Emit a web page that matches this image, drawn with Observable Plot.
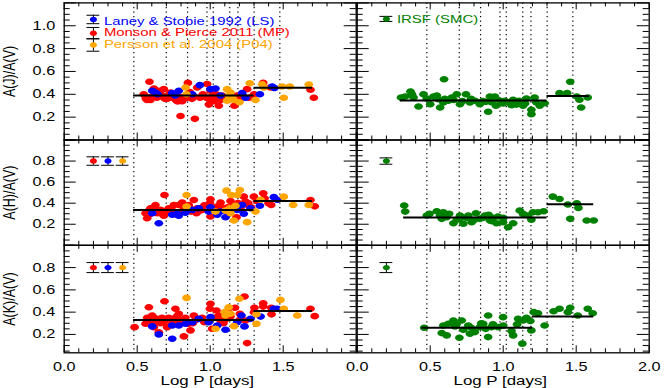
<!DOCTYPE html>
<html><head><meta charset="utf-8">
<script src="https://cdn.jsdelivr.net/npm/d3@7"></script>
<script src="https://cdn.jsdelivr.net/npm/@observablehq/plot@0.6"></script>
<style>
html,body{margin:0;padding:0;background:#fff;}
#chart{position:relative;width:664px;height:388px;overflow:hidden;background:#fff;}
#chart svg{position:absolute;left:0;top:0;}
</style></head><body><div id="chart"></div>
<script>
// ---------- data ----------
const periodLines = [0.477, 0.699, 0.845, 0.978, 1.021, 1.134, 1.190, 1.301, 1.477];
const xTickLabelsLeft = ["0.0", "0.5", "1.0", "1.5"];
const xTickLabelsRight = ["0.0", "0.5", "1.0", "1.5", "2.0"];
const yTickLabelsTop = ["0.2", "0.4", "0.6", "0.8", "1.0"];
const yTickLabelsLower = ["0.2", "0.4", "0.6", "0.8"];
const yLabels = ["A(J)/A(V)", "A(H)/A(V)", "A(K)/A(V)"];
const xLabel = "Log P [days]";
const legendNames = ["Laney & Stobie 1992 (LS)", "Monson & Pierce 2011 (MP)", "Persson et al. 2004 (P04)"];
const smcName = "IRSF (SMC)";

const jMP = [[0.545,0.40],[0.557,0.38],[0.560,0.36],[0.568,0.35],[0.584,0.51],[0.591,0.35],[0.600,0.38],[0.614,0.45],[0.620,0.40],[0.635,0.37],[0.648,0.43],[0.660,0.40],[0.671,0.38],[0.682,0.445],[0.690,0.36],[0.700,0.38],[0.705,0.36],[0.715,0.39],[0.728,0.415],[0.740,0.37],[0.750,0.39],[0.760,0.37],[0.765,0.35],[0.774,0.34],[0.780,0.34],[0.785,0.38],[0.797,0.21],[0.800,0.36],[0.808,0.34],[0.820,0.37],[0.842,0.37],[0.847,0.50],[0.860,0.42],[0.875,0.36],[0.888,0.38],[0.895,0.185],[0.911,0.46],[0.930,0.37],[0.950,0.40],[0.975,0.37],[0.979,0.49],[0.990,0.36],[0.991,0.31],[1.002,0.43],[1.010,0.38],[1.025,0.34],[1.040,0.40],[1.050,0.37],[1.059,0.30],[1.070,0.35],[1.082,0.39],[1.100,0.36],[1.166,0.30],[1.185,0.39],[1.200,0.35],[1.220,0.38],[1.253,0.445],[1.265,0.37],[1.300,0.40],[1.363,0.50],[1.413,0.46],[1.687,0.44],[1.710,0.37]];
const jLS = [[0.603,0.43],[0.625,0.415],[0.640,0.40],[0.740,0.41],[0.760,0.39],[0.785,0.43],[0.877,0.40],[0.929,0.48],[1.002,0.445],[1.036,0.45],[1.071,0.39],[1.219,0.41],[1.242,0.37],[1.340,0.40],[1.425,0.468],[1.440,0.455]];
const jP04 = [[0.831,0.46],[0.838,0.40],[1.116,0.445],[1.116,0.343],[1.130,0.38],[1.139,0.415],[1.151,0.37],[1.162,0.35],[1.200,0.33],[1.271,0.497],[1.310,0.35],[1.356,0.488],[1.367,0.46],[1.493,0.468],[1.504,0.37],[1.545,0.468],[1.675,0.485]];
const jSMC = [[0.300,0.372],[0.329,0.38],[0.365,0.425],[0.375,0.40],[0.386,0.372],[0.420,0.293],[0.454,0.40],[0.477,0.363],[0.500,0.313],[0.522,0.38],[0.545,0.39],[0.556,0.357],[0.568,0.284],[0.590,0.328],[0.595,0.532],[0.600,0.36],[0.624,0.343],[0.648,0.372],[0.660,0.35],[0.682,0.40],[0.704,0.313],[0.720,0.34],[0.745,0.40],[0.772,0.328],[0.780,0.36],[0.806,0.343],[0.840,0.313],[0.860,0.34],[0.881,0.334],[0.897,0.247],[0.909,0.38],[0.920,0.33],[0.943,0.38],[0.950,0.30],[0.977,0.343],[1.000,0.32],[1.011,0.343],[1.040,0.33],[1.057,0.305],[1.068,0.352],[1.090,0.31],[1.109,0.343],[1.136,0.30],[1.150,0.32],[1.159,0.363],[1.193,0.264],[1.193,0.226],[1.215,0.372],[1.227,0.328],[1.250,0.30],[1.284,0.322],[1.386,0.41],[1.438,0.41],[1.459,0.51],[1.504,0.38],[1.522,0.352],[1.534,0.284],[1.579,0.372]];

const hMP = [[0.557,0.305],[0.568,0.257],[0.580,0.29],[0.580,0.33],[0.591,0.352],[0.610,0.32],[0.620,0.34],[0.625,0.383],[0.637,0.305],[0.660,0.336],[0.670,0.30],[0.682,0.28],[0.687,0.478],[0.700,0.32],[0.716,0.352],[0.730,0.31],[0.740,0.33],[0.751,0.383],[0.774,0.29],[0.785,0.383],[0.790,0.31],[0.808,0.405],[0.820,0.35],[0.831,0.336],[0.853,0.383],[0.860,0.35],[0.870,0.32],[0.888,0.43],[0.906,0.305],[0.911,0.352],[0.930,0.33],[0.945,0.336],[0.960,0.38],[0.998,0.40],[1.002,0.437],[1.002,0.273],[1.010,0.35],[1.025,0.336],[1.048,0.368],[1.060,0.32],[1.071,0.405],[1.080,0.33],[1.093,0.352],[1.120,0.36],[1.127,0.305],[1.139,0.42],[1.157,0.368],[1.180,0.267],[1.190,0.40],[1.207,0.346],[1.230,0.462],[1.242,0.415],[1.258,0.383],[1.260,0.40],[1.280,0.36],[1.299,0.462],[1.320,0.42],[1.363,0.494],[1.372,0.447],[1.400,0.40],[1.418,0.383],[1.687,0.43],[1.716,0.37]];
const hLS = [[0.603,0.305],[0.648,0.21],[0.740,0.29],[0.774,0.30],[0.785,0.28],[0.830,0.31],[0.877,0.336],[0.922,0.352],[0.990,0.32],[1.002,0.361],[1.048,0.29],[1.070,0.32],[1.105,0.267],[1.185,0.336],[1.219,0.383],[1.230,0.30],[1.276,0.352],[1.340,0.375],[1.436,0.457],[1.459,0.432]];
const hP04 = [[0.838,0.478],[0.838,0.368],[1.036,0.32],[1.105,0.33],[1.112,0.519],[1.134,0.352],[1.139,0.305],[1.144,0.478],[1.162,0.235],[1.173,0.375],[1.185,0.478],[1.203,0.525],[1.253,0.22],[1.310,0.32],[1.345,0.432],[1.504,0.462],[1.568,0.383],[1.675,0.383]];
const hSMC = [[0.322,0.377],[0.329,0.32],[0.477,0.282],[0.495,0.298],[0.545,0.323],[0.568,0.282],[0.579,0.251],[0.590,0.314],[0.613,0.266],[0.630,0.30],[0.659,0.21],[0.682,0.242],[0.700,0.25],[0.704,0.282],[0.727,0.204],[0.750,0.26],[0.761,0.282],[0.784,0.219],[0.800,0.24],[0.813,0.304],[0.840,0.251],[0.860,0.26],[0.875,0.282],[0.900,0.29],[0.909,0.235],[0.920,0.23],[0.931,0.261],[0.954,0.21],[0.965,0.273],[0.999,0.219],[1.000,0.26],[1.034,0.172],[1.068,0.21],[1.113,0.33],[1.136,0.298],[1.170,0.282],[1.193,0.242],[1.204,0.314],[1.238,0.314],[1.277,0.323],[1.340,0.462],[1.386,0.44],[1.443,0.387],[1.459,0.251],[1.504,0.399],[1.515,0.355],[1.572,0.235],[1.620,0.235]];

const kMP = [[0.482,0.265],[0.557,0.296],[0.568,0.35],[0.570,0.31],[0.580,0.444],[0.590,0.32],[0.600,0.29],[0.603,0.37],[0.614,0.265],[0.625,0.33],[0.630,0.31],[0.637,0.34],[0.648,0.22],[0.660,0.30],[0.670,0.35],[0.682,0.31],[0.687,0.498],[0.690,0.33],[0.705,0.265],[0.715,0.35],[0.728,0.34],[0.740,0.30],[0.750,0.31],[0.762,0.43],[0.770,0.36],[0.785,0.385],[0.797,0.325],[0.810,0.33],[0.820,0.182],[0.830,0.35],[0.853,0.296],[0.865,0.236],[0.880,0.30],[0.888,0.37],[0.900,0.33],[0.945,0.35],[0.960,0.31],[0.998,0.43],[1.002,0.475],[1.013,0.251],[1.030,0.35],[1.043,0.415],[1.059,0.37],[1.071,0.325],[1.090,0.30],[1.100,0.33],[1.120,0.41],[1.139,0.36],[1.170,0.44],[1.200,0.33],[1.203,0.385],[1.235,0.54],[1.242,0.325],[1.253,0.122],[1.300,0.40],[1.303,0.44],[1.363,0.48],[1.363,0.45],[1.418,0.44],[1.420,0.38],[1.687,0.43],[1.716,0.364]];
const kLS = [[0.603,0.272],[0.648,0.20],[0.740,0.161],[0.740,0.28],[0.785,0.28],[0.831,0.296],[0.877,0.31],[0.922,0.34],[0.990,0.31],[1.002,0.355],[1.048,0.28],[1.105,0.242],[1.185,0.31],[1.214,0.37],[1.235,0.272],[1.276,0.34],[1.345,0.36],[1.436,0.43],[1.459,0.43]];
const kP04 = [[0.838,0.528],[1.036,0.251],[1.100,0.40],[1.105,0.37],[1.127,0.444],[1.139,0.385],[1.163,0.274],[1.200,0.52],[1.317,0.38],[1.317,0.296],[1.481,0.51],[1.504,0.43],[1.596,0.37]];
const kSMC = [[0.459,0.26],[0.579,0.212],[0.590,0.28],[0.613,0.191],[0.624,0.296],[0.659,0.325],[0.670,0.272],[0.680,0.29],[0.700,0.17],[0.716,0.325],[0.727,0.242],[0.761,0.28],[0.772,0.206],[0.780,0.26],[0.806,0.221],[0.840,0.265],[0.850,0.30],[0.863,0.296],[0.880,0.25],[0.897,0.37],[0.897,0.176],[0.920,0.265],[0.930,0.29],[0.965,0.265],[0.999,0.355],[1.000,0.28],[1.057,0.23],[1.068,0.191],[1.095,0.29],[1.102,0.34],[1.131,0.117],[1.136,0.325],[1.159,0.35],[1.186,0.32],[1.193,0.236],[1.209,0.40],[1.238,0.39],[1.284,0.28],[1.345,0.408],[1.386,0.43],[1.443,0.40],[1.459,0.439],[1.511,0.37],[1.579,0.43],[1.613,0.39]];

// fitted mean levels: [logP start, logP end, ratio]
const fitJLeft = [[0.475,1.30,0.39],[1.30,1.70,0.457]];
const fitJRight = [[0.295,1.30,0.345],[1.30,1.59,0.385]];
const fitHLeft = [[0.475,1.30,0.335],[1.30,1.70,0.42]];
const fitHRight = [[0.318,1.30,0.265],[1.30,1.62,0.39]];
const fitKLeft = [[0.475,1.30,0.33],[1.30,1.70,0.41]];
const fitKRight = [[0.443,1.20,0.26],[1.20,1.62,0.36]];

// ---------- style ----------
const RED = "#ff0000", BLUE = "#0000ff", ORANGE = "#ffa500", GREEN = "#008000";
const FONT = '"Liberation Sans", Arial, Helvetica, sans-serif';
const STRETCH = 1.3;
const W = 664, H = 388;
const cols = [{left: 63.7, right: 355.7}, {left: 356.7, right: 648.7}];
const rows = [
  {top: 2.4, bottom: 139.5, domain: [0, 1.2]},
  {top: 139.5, bottom: 244.8, domain: [0, 1.0]},
  {top: 244.8, bottom: 352.3, domain: [0.035, 1.0]}
];
const ellipse = {
  draw(ctx, size) {
    const r = Math.sqrt(size / Math.PI), rx = r * 1.15, ry = r * 0.87, k = 0.5523;
    ctx.moveTo(rx, 0);
    ctx.bezierCurveTo(rx, ry * k, rx * k, ry, 0, ry);
    ctx.bezierCurveTo(-rx * k, ry, -rx, ry * k, -rx, 0);
    ctx.bezierCurveTo(-rx, -ry * k, -rx * k, -ry, 0, -ry);
    ctx.bezierCurveTo(rx * k, -ry, rx, -ry * k, rx, 0);
    ctx.closePath();
  }
};

function errBars(items) {
  const caps = items.flatMap(d => [{x: d.x, y: d.y - d.e}, {x: d.x, y: d.y + d.e}]);
  return [
    Plot.ruleX(items, {x: d => d.x, y1: d => d.y - d.e, y2: d => d.y + d.e, stroke: "black", strokeWidth: 1}),
    Plot.ruleY(caps, {y: d => d.y, x1: d => d.x - 0.044, x2: d => d.x + 0.044, stroke: "black", strokeWidth: 1}),
    Plot.dot(items, {x: d => d.x, y: d => d.y, r: 3.1, symbol: ellipse, fill: d => d.color, stroke: "none"})
  ];
}

function panel(ci, ri, series, fits, extra) {
  const c = cols[ci], r = rows[ri];
  const pw = c.right - c.left, ph = r.bottom - r.top;
  const [y0, y1] = r.domain;
  const xMajor = d3.range(0, 5).map(i => i / 2);
  const xMinor = d3.range(0, 21).map(i => i / 10).filter(v => Math.abs(v * 2 - Math.round(v * 2)) > 1e-6);
  const yMajor = d3.range(0, Math.round(y1 * 5) + 1).map(i => i / 5).filter(v => v >= y0);
  const yMinor = d3.range(0, Math.round(y1 * 20) + 1).map(i => i / 20).filter(v => v >= y0 && Math.abs(v * 5 - Math.round(v * 5)) > 1e-6);
  const svg = Plot.plot({
    width: W, height: H,
    marginLeft: c.left, marginRight: W - c.right, marginTop: r.top, marginBottom: H - r.bottom,
    x: {domain: [0, 2], axis: null},
    y: {domain: r.domain, axis: null},
    color: {type: "identity"},
    style: {background: "transparent", overflow: "visible", fontFamily: FONT, fontSize: "12.5px", color: "black"},
    marks: [
      Plot.ruleX(periodLines, {x: d => d, stroke: "black", strokeWidth: 1.2, strokeDasharray: "1.3,3.2"}),
      Plot.tickX(xMinor, {x: d => d, insetBottom: ph - 4, stroke: "black"}),
      Plot.tickX(xMinor, {x: d => d, insetTop: ph - 4, stroke: "black"}),
      Plot.tickX(xMajor, {x: d => d, insetBottom: ph - 7, stroke: "black"}),
      Plot.tickX(xMajor, {x: d => d, insetTop: ph - 7, stroke: "black"}),
      Plot.tickY(yMinor, {y: d => d, insetRight: pw - 6, stroke: "black"}),
      Plot.tickY(yMinor, {y: d => d, insetLeft: pw - 6, stroke: "black"}),
      Plot.tickY(yMajor, {y: d => d, insetRight: pw - 12, stroke: "black"}),
      Plot.tickY(yMajor, {y: d => d, insetLeft: pw - 12, stroke: "black"}),
      ...series.map(s => Plot.dot(s.data, {x: d => d[0], y: d => d[1], r: 3.8, symbol: ellipse, fill: s.color, stroke: "none"})),
      Plot.ruleY(fits, {y: d => d[2], x1: d => d[0], x2: d => d[1], stroke: "black", strokeWidth: 2}),
      ...extra,
      Plot.frame({stroke: "black", strokeWidth: 1.3})
    ]
  });
  return svg;
}

function yAxisMarks(labels, ylab) {
  return [
    Plot.text(labels, {y: d => +d, text: d => d, frameAnchor: "left", textAnchor: "end", dx: -9, fontSize: 12.5, fill: "black"}),
    Plot.text([ylab], {text: d => d, frameAnchor: "left", rotate: -90, dx: -54, textAnchor: "middle", lineAnchor: "middle", fontSize: 12.5, fill: "black"})
  ];
}
function xAxisMarks(labels) {
  return [
    Plot.text(labels, {x: d => +d, text: d => d, frameAnchor: "bottom", lineAnchor: "top", dy: 9.5, fontSize: 12.5, fill: "black"}),
    Plot.text([xLabel], {x: () => 0.98, text: d => d, frameAnchor: "bottom", lineAnchor: "top", dy: 23, fontSize: 13, fill: "black"})
  ];
}

const leftSeries = (mp, ls, p04) => [{data: mp, color: RED}, {data: ls, color: BLUE}, {data: p04, color: ORANGE}];

const panels = [
  panel(0, 0, leftSeries(jMP, jLS, jP04), fitJLeft, [
    ...yAxisMarks(yTickLabelsTop, yLabels[0]),
    ...errBars([
      {x: 0.2, y: 1.055, e: 0.037, color: BLUE},
      {x: 0.2, y: 0.935, e: 0.05, color: RED},
      {x: 0.2, y: 0.832, e: 0.055, color: ORANGE}
    ]),
    Plot.text(legendNames, {x: 0.272, y: (d, i) => [1.040, 0.936, 0.831][i], text: d => d, textAnchor: "start", fill: (d, i) => [BLUE, RED, ORANGE][i], fontSize: 10.5, className: "wide"})
  ]),
  panel(1, 0, [{data: jSMC, color: GREEN}], fitJRight, [
    ...errBars([{x: 0.2, y: 1.06, e: 0.022, color: GREEN}]),
    Plot.text([smcName], {x: 0.272, y: 1.055, text: d => d, textAnchor: "start", fill: GREEN, fontSize: 11.5})
  ]),
  panel(0, 1, leftSeries(hMP, hLS, hP04), fitHLeft, [
    ...yAxisMarks(yTickLabelsLower, yLabels[1]),
    ...errBars([{x: 0.2, y: 0.8, e: 0.04, color: RED}, {x: 0.3, y: 0.8, e: 0.04, color: BLUE}, {x: 0.4, y: 0.8, e: 0.04, color: ORANGE}])
  ]),
  panel(1, 1, [{data: hSMC, color: GREEN}], fitHRight, [
    ...errBars([{x: 0.2, y: 0.8, e: 0.03, color: GREEN}])
  ]),
  panel(0, 2, leftSeries(kMP, kLS, kP04), fitKLeft, [
    ...yAxisMarks(yTickLabelsLower, yLabels[2]),
    ...xAxisMarks(xTickLabelsLeft),
    ...errBars([{x: 0.2, y: 0.8, e: 0.045, color: RED}, {x: 0.3, y: 0.8, e: 0.045, color: BLUE}, {x: 0.4, y: 0.8, e: 0.045, color: ORANGE}])
  ]),
  panel(1, 2, [{data: kSMC, color: GREEN}], fitKRight, [
    ...xAxisMarks(xTickLabelsRight),
    ...errBars([{x: 0.2, y: 0.8, e: 0.045, color: GREEN}])
  ])
];

const chart = document.getElementById("chart");
for (const svg of panels) chart.appendChild(svg);

// the reference figure is horizontally stretched; mimic it on the text
for (const svg of panels) {
  svg.querySelectorAll("text").forEach(t => {
    const s = t.closest(".wide") ? 1.42 : STRETCH;
    const tr = t.getAttribute("transform");
    if (tr && tr.includes("rotate")) t.setAttribute("transform", tr + ` scale(1,${s})`);
    else if (tr) t.setAttribute("transform", tr + ` scale(${s},1)`);
    else {
      const x = +t.getAttribute("x") || 0, y = +t.getAttribute("y") || 0;
      t.setAttribute("transform", `translate(${x},${y}) scale(${s},1) translate(${-x},${-y})`);
    }
  });
}
</script></body></html>
